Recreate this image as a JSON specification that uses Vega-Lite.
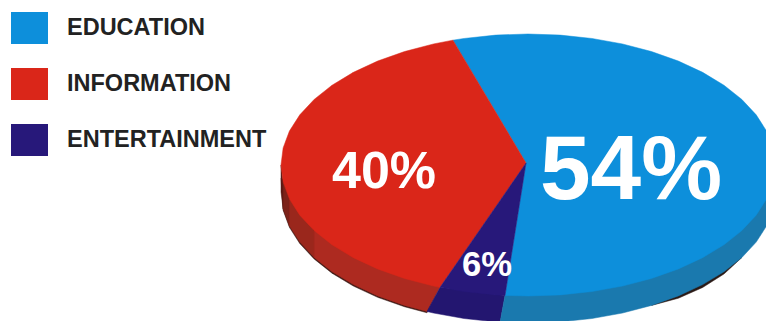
{
  "$schema": "https://vega.github.io/schema/vega-lite/v6.json",
  "width": 766,
  "height": 321,
  "padding": 0,
  "autosize": {"type": "none"},
  "background": "#ffffff",
  "config": {"view": {"stroke": null}},
  "datasets": {
    "side": [
      {"band":"rim","i":0,"x":-1,"y":-0.1},{"band":"rim","i":1,"x":-0.9914,"y":-0.345},{"band":"rim","i":2,"x":-0.9659,"y":-0.476},{"band":"rim","i":3,"x":-0.9239,"y":-0.6},{"band":"rim","i":4,"x":-0.866,"y":-0.717},{"band":"rim","i":5,"x":-0.7934,"y":-0.826},{"band":"rim","i":6,"x":-0.7071,"y":-0.924},{"band":"rim","i":7,"x":-0.6088,"y":-1.01},{"band":"rim","i":8,"x":-0.5,"y":-1.082},{"band":"rim","i":9,"x":-0.409,"y":-1.128},{"band":"rim","i":10,"x":-0.356,"y":-0.9},
      {"band":"shadow","i":0,"x":0.5,"y":-1.072},{"band":"shadow","i":1,"x":0.6088,"y":-1.017},{"band":"shadow","i":2,"x":0.7071,"y":-0.935},{"band":"shadow","i":3,"x":0.7934,"y":-0.832},{"band":"shadow","i":4,"x":0.866,"y":-0.706},{"band":"shadow","i":5,"x":0.7,"y":-0.8},
      {"band":"red1","i":0,"x":-1,"y":0},{"band":"red1","i":1,"x":-1,"y":-0.206},{"band":"red1","i":2,"x":-0.9914,"y":-0.3355},{"band":"red1","i":3,"x":-0.9914,"y":-0.1305},
      {"band":"red2","i":0,"x":-0.9914,"y":-0.1305},{"band":"red2","i":1,"x":-0.9914,"y":-0.3355},{"band":"red2","i":2,"x":-0.9659,"y":-0.4648},{"band":"red2","i":3,"x":-0.9659,"y":-0.2588},
      {"band":"red3","i":0,"x":-0.9659,"y":-0.2588},{"band":"red3","i":1,"x":-0.9659,"y":-0.4648},{"band":"red3","i":2,"x":-0.9239,"y":-0.5887},{"band":"red3","i":3,"x":-0.866,"y":-0.706},{"band":"red3","i":4,"x":-0.866,"y":-0.5},
      {"band":"red4","i":0,"x":-0.866,"y":-0.5},{"band":"red4","i":1,"x":-0.866,"y":-0.706},{"band":"red4","i":2,"x":-0.7934,"y":-0.8148},{"band":"red4","i":3,"x":-0.7071,"y":-0.9131},{"band":"red4","i":4,"x":-0.6088,"y":-0.9994},{"band":"red4","i":5,"x":-0.5,"y":-1.072},{"band":"red4","i":6,"x":-0.409,"y":-1.1185},{"band":"red4","i":7,"x":-0.356,"y":-0.934},
      {"band":"navy","i":0,"x":-0.356,"y":-0.934},{"band":"navy","i":1,"x":-0.409,"y":-1.1185},{"band":"navy","i":2,"x":-0.3827,"y":-1.1299},{"band":"navy","i":3,"x":-0.2588,"y":-1.1719},{"band":"navy","i":4,"x":-0.1305,"y":-1.1974},{"band":"navy","i":5,"x":-0.113,"y":-1.1996},{"band":"navy","i":6,"x":-0.093,"y":-0.9957},
      {"band":"blue","i":0,"x":-0.093,"y":-0.9957},{"band":"blue","i":1,"x":-0.113,"y":-1.1996},{"band":"blue","i":2,"x":0,"y":-1.206},{"band":"blue","i":3,"x":0.1305,"y":-1.1974},{"band":"blue","i":4,"x":0.2588,"y":-1.1719},{"band":"blue","i":5,"x":0.3827,"y":-1.1299},{"band":"blue","i":6,"x":0.5,"y":-1.072},{"band":"blue","i":7,"x":0.6088,"y":-0.9994},{"band":"blue","i":8,"x":0.7071,"y":-0.9131},{"band":"blue","i":9,"x":0.7934,"y":-0.8148},{"band":"blue","i":10,"x":0.866,"y":-0.706},{"band":"blue","i":11,"x":0.9239,"y":-0.5887},{"band":"blue","i":12,"x":0.9659,"y":-0.4648},{"band":"blue","i":13,"x":0.9914,"y":-0.3355},{"band":"blue","i":14,"x":1,"y":-0.206},{"band":"blue","i":15,"x":1,"y":0}
    ],
    "top": [
      {"slice":"EDUCATION","i":0,"x":-0.008,"y":0.015},{"slice":"EDUCATION","i":1,"x":-0.304,"y":0.953},{"slice":"EDUCATION","i":2,"x":-0.2588,"y":0.9659},{"slice":"EDUCATION","i":3,"x":-0.1305,"y":0.9914},{"slice":"EDUCATION","i":4,"x":0,"y":1},{"slice":"EDUCATION","i":5,"x":0.1305,"y":0.9914},{"slice":"EDUCATION","i":6,"x":0.2588,"y":0.9659},{"slice":"EDUCATION","i":7,"x":0.3827,"y":0.9239},{"slice":"EDUCATION","i":8,"x":0.5,"y":0.866},{"slice":"EDUCATION","i":9,"x":0.6088,"y":0.7934},{"slice":"EDUCATION","i":10,"x":0.7071,"y":0.7071},{"slice":"EDUCATION","i":11,"x":0.7934,"y":0.6088},{"slice":"EDUCATION","i":12,"x":0.866,"y":0.5},{"slice":"EDUCATION","i":13,"x":0.9239,"y":0.3827},{"slice":"EDUCATION","i":14,"x":0.9659,"y":0.2588},{"slice":"EDUCATION","i":15,"x":0.9914,"y":0.1305},{"slice":"EDUCATION","i":16,"x":1,"y":0},{"slice":"EDUCATION","i":17,"x":0.9914,"y":-0.1305},{"slice":"EDUCATION","i":18,"x":0.9659,"y":-0.2588},{"slice":"EDUCATION","i":19,"x":0.9239,"y":-0.3827},{"slice":"EDUCATION","i":20,"x":0.866,"y":-0.5},{"slice":"EDUCATION","i":21,"x":0.7934,"y":-0.6088},{"slice":"EDUCATION","i":22,"x":0.7071,"y":-0.7071},{"slice":"EDUCATION","i":23,"x":0.6088,"y":-0.7934},{"slice":"EDUCATION","i":24,"x":0.5,"y":-0.866},{"slice":"EDUCATION","i":25,"x":0.3827,"y":-0.9239},{"slice":"EDUCATION","i":26,"x":0.2588,"y":-0.9659},{"slice":"EDUCATION","i":27,"x":0.1305,"y":-0.9914},{"slice":"EDUCATION","i":28,"x":0,"y":-1},{"slice":"EDUCATION","i":29,"x":-0.093,"y":-0.9957},
      {"slice":"INFORMATION","i":0,"x":-0.008,"y":0.015},{"slice":"INFORMATION","i":1,"x":-0.304,"y":0.953},{"slice":"INFORMATION","i":2,"x":-0.3827,"y":0.9239},{"slice":"INFORMATION","i":3,"x":-0.5,"y":0.866},{"slice":"INFORMATION","i":4,"x":-0.6088,"y":0.7934},{"slice":"INFORMATION","i":5,"x":-0.7071,"y":0.7071},{"slice":"INFORMATION","i":6,"x":-0.7934,"y":0.6088},{"slice":"INFORMATION","i":7,"x":-0.866,"y":0.5},{"slice":"INFORMATION","i":8,"x":-0.9239,"y":0.3827},{"slice":"INFORMATION","i":9,"x":-0.9659,"y":0.2588},{"slice":"INFORMATION","i":10,"x":-0.9914,"y":0.1305},{"slice":"INFORMATION","i":11,"x":-1,"y":0},{"slice":"INFORMATION","i":12,"x":-0.9914,"y":-0.1305},{"slice":"INFORMATION","i":13,"x":-0.9659,"y":-0.2588},{"slice":"INFORMATION","i":14,"x":-0.9239,"y":-0.3827},{"slice":"INFORMATION","i":15,"x":-0.866,"y":-0.5},{"slice":"INFORMATION","i":16,"x":-0.7934,"y":-0.6088},{"slice":"INFORMATION","i":17,"x":-0.7071,"y":-0.7071},{"slice":"INFORMATION","i":18,"x":-0.6088,"y":-0.7934},{"slice":"INFORMATION","i":19,"x":-0.5,"y":-0.866},{"slice":"INFORMATION","i":20,"x":-0.3827,"y":-0.9239},{"slice":"INFORMATION","i":21,"x":-0.356,"y":-0.934},
      {"slice":"ENTERTAINMENT","i":0,"x":-0.008,"y":0.015},{"slice":"ENTERTAINMENT","i":1,"x":-0.356,"y":-0.934},{"slice":"ENTERTAINMENT","i":2,"x":-0.2588,"y":-0.9659},{"slice":"ENTERTAINMENT","i":3,"x":-0.1305,"y":-0.9914},{"slice":"ENTERTAINMENT","i":4,"x":-0.093,"y":-0.9957}
    ],
    "shares": [
      {"slice":"EDUCATION","share":0.54,"x":0.417,"y":-0.053},
      {"slice":"INFORMATION","share":0.40,"x":-0.583,"y":-0.053},
      {"slice":"ENTERTAINMENT","share":0.06,"x":-0.166,"y":-0.771}
    ]
  },
  "encoding": {
    "x": {"field":"x","type":"quantitative","axis":null,"scale":{"domain":[-2.1377,0.9636],"nice":false,"zero":false}},
    "y": {"field":"y","type":"quantitative","axis":null,"scale":{"domain":[-1.1908,1.2595],"nice":false,"zero":false}}
  },
  "layer": [
    {
      "data": {"name":"side"},
      "mark": {"type":"line","interpolate":"linear-closed","clip":true,"strokeWidth":0.5},
      "encoding": {
        "order": {"field":"i","type":"quantitative"},
        "fill": {"field":"band","type":"nominal","legend":null,"scale":{"domain":["rim","shadow","red1","red2","red3","red4","navy","blue"],"range":["#3a1712","#2a1a16","#5a1a14","#7c2219","#9a271c","#ad2a20","#231670","#1a79ae"]}},
        "stroke": {"field":"band","type":"nominal","legend":null,"scale":{"domain":["rim","shadow","red1","red2","red3","red4","navy","blue"],"range":["#3a1712","#2a1a16","#5a1a14","#7c2219","#9a271c","#ad2a20","#231670","#1a79ae"]}}
      }
    },
    {
      "data": {"name":"top"},
      "mark": {"type":"line","interpolate":"linear-closed","clip":true,"strokeWidth":0.5},
      "encoding": {
        "order": {"field":"i","type":"quantitative"},
        "fill": {
          "field":"slice","type":"nominal",
          "scale":{"domain":["EDUCATION","INFORMATION","ENTERTAINMENT"],"range":["#0d8fdb","#da2619","#27187a"]},
          "legend":{
            "title":null,"orient":"none","legendX":11,"legendY":9.5,
            "symbolType":"M-1,-0.865H1V0.865H-1Z","symbolSize":1369,"symbolStrokeWidth":0,
            "labelFont":"Liberation Sans","labelFontWeight":"bold","labelFontSize":23.5,"labelColor":"#222222",
            "labelOffset":19,"rowPadding":21,"labelLimit":300
          }
        },
        "stroke": {"field":"slice","type":"nominal","legend":null,"scale":{"domain":["EDUCATION","INFORMATION","ENTERTAINMENT"],"range":["#0d8fdb","#da2619","#27187a"]}}
      }
    },
    {
      "data": {"name":"shares"},
      "mark": {"type":"text","font":"Liberation Sans","fontWeight":"bold","color":"#ffffff","align":"center","baseline":"middle"},
      "encoding": {
        "text": {"field":"share","type":"quantitative","format":".0%"},
        "size": {"field":"slice","type":"nominal","legend":null,"scale":{"type":"ordinal","domain":["EDUCATION","INFORMATION","ENTERTAINMENT"],"range":[91,52,34.6]}}
      }
    }
  ],
  "resolve": {"scale":{"fill":"independent","stroke":"independent"}}
}
